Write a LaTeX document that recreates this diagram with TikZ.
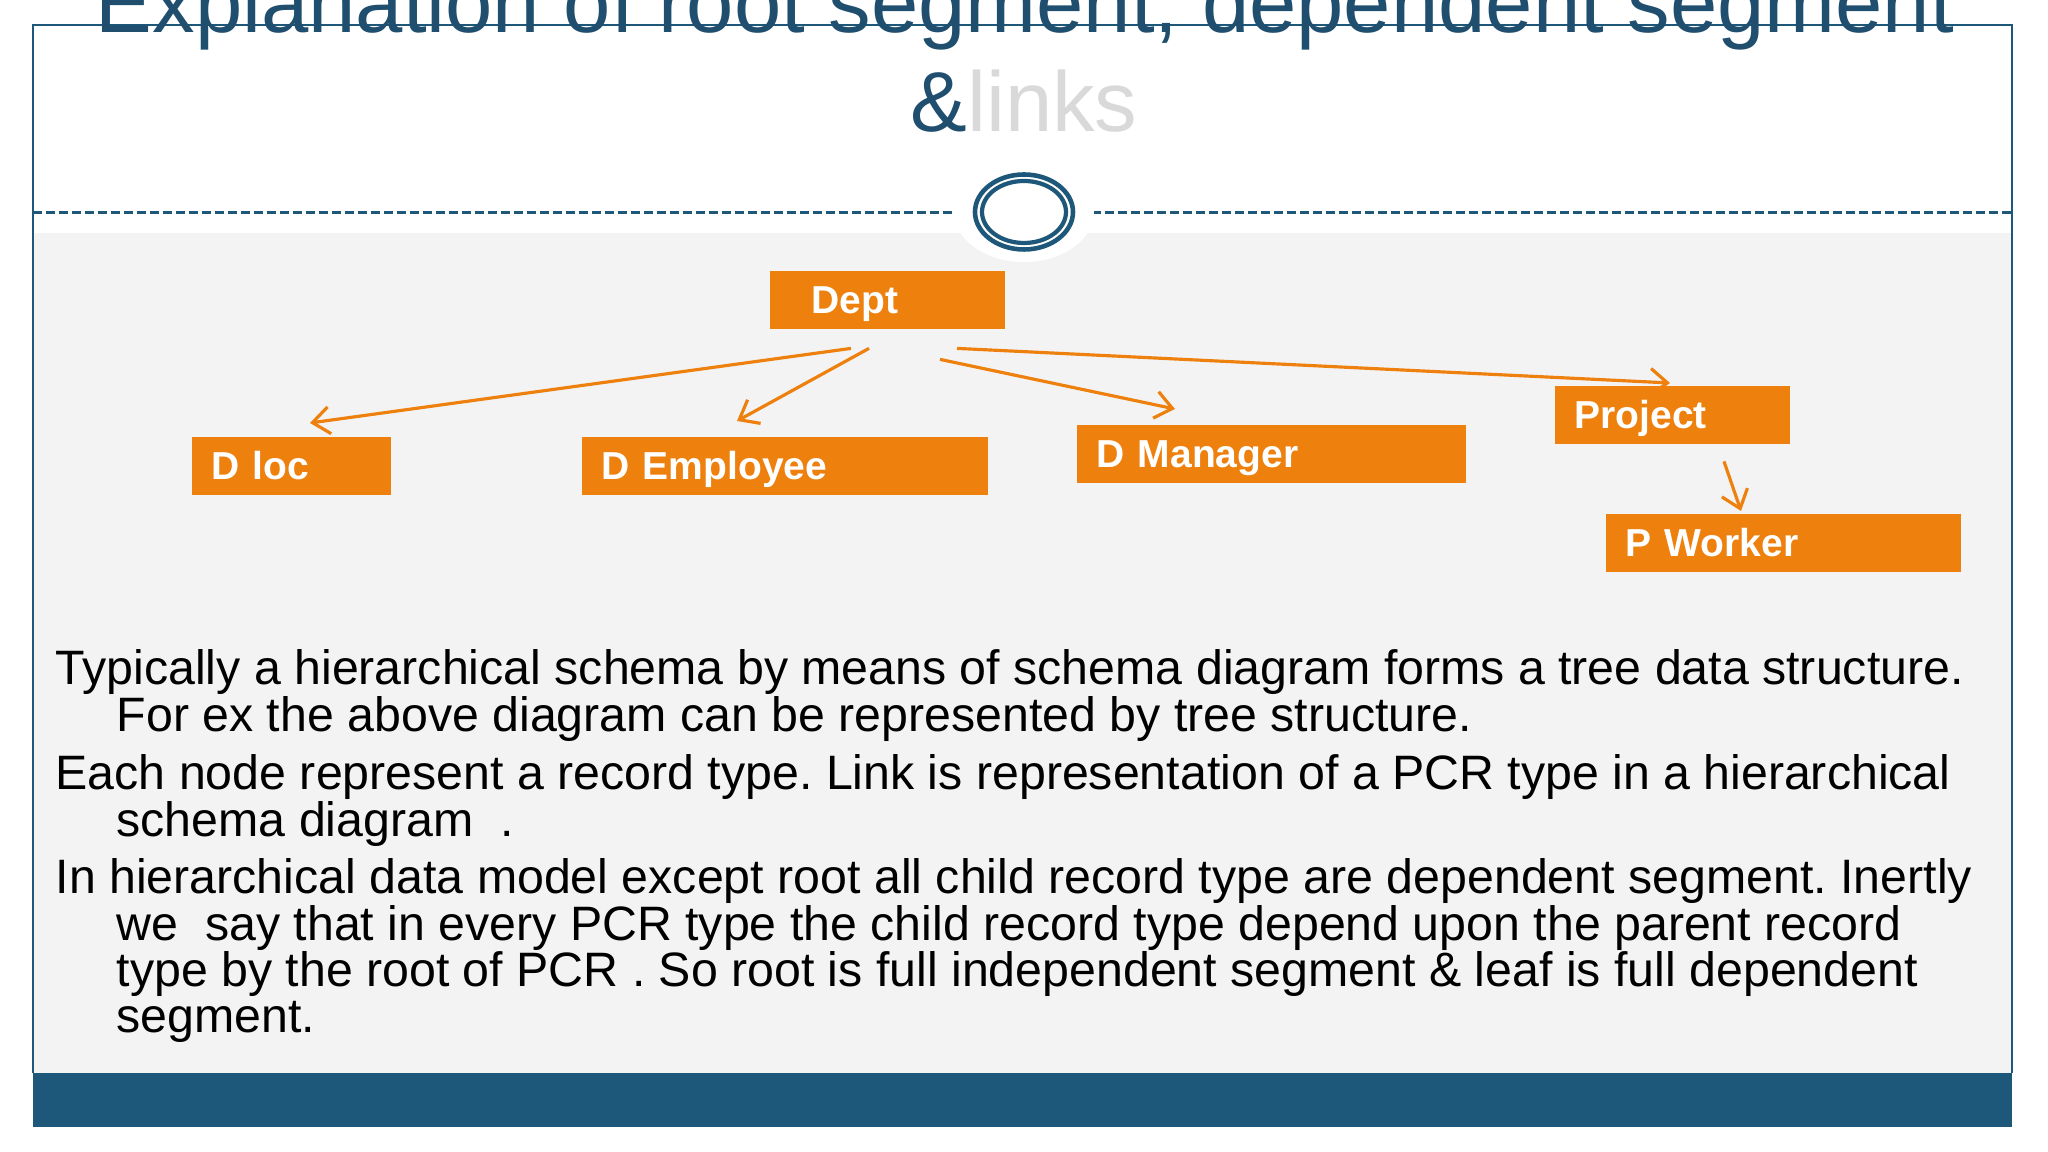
\documentclass[tikz,border=0pt]{standalone}
\usepackage{fontspec}
\setmainfont{Liberation Sans}
\setsansfont{Liberation Sans}
\usepackage{tikz}
\usetikzlibrary{arrows.meta}
\frenchspacing

\definecolor{segorange}{RGB}{238,128,14}
\definecolor{slideblue}{RGB}{29,87,121}
\definecolor{titleblue}{RGB}{31,78,110}
\definecolor{paper}{RGB}{243,243,243}

\begin{document}
\begin{tikzpicture}[
    seg/.style={fill=segorange, text=white, anchor=north west, align=left,
                font=\sffamily\bfseries\fontsize{11.1}{13}\selectfont,
                minimum height=5.8mm, inner xsep=2mm, inner ysep=0pt,
                text height=2.8mm, text depth=0pt, text width=#1},
    link/.style={draw=segorange, line width=0.9pt,
                 -{Straight Barb[length=1.7mm,width=2.7mm]}},
    para/.style={anchor=north west, align=left, inner sep=0pt,
                 font=\fontsize{13.74}{13.2}\selectfont}]
            \useasboundingbox (0,0) rectangle (20.48,11.52);

            %%% SLIDE (frame, title, divider) %%%
            \fill[paper] (0.33,0.79) rectangle (20.12,9.19);
            \fill[slideblue] (0.33,0.25) rectangle (20.12,0.79);
            \draw[slideblue, line width=0.8pt] (0.33,0.79) -- (0.33,11.27) -- (20.12,11.27) -- (20.12,0.79);

            \node[titleblue, anchor=base, font=\fontsize{24.2}{29}\selectfont] (title) at (10.25,11.19)
                {Explanation of root segment, dependent segment};
            \node[anchor=base, font=\fontsize{24.2}{29}\selectfont] (subtitle) at (10.24,10.20)
                {\textcolor{titleblue}{\&}\textcolor{gray!30}{links}};

            % divider with the double ring
            \draw[slideblue, line width=0.85pt, dash pattern=on 0.9mm off 0.4mm] (0.33,9.39) -- (9.53,9.39);
            \draw[slideblue, line width=0.85pt, dash pattern=on 0.9mm off 0.4mm] (10.92,9.39) -- (20.12,9.39);
            \fill[white] (10.24,9.40) ellipse [x radius=0.70, y radius=0.50];
            \draw[slideblue, line width=1.3pt] (10.24,9.40) ellipse [x radius=0.49, y radius=0.375];
            \draw[slideblue, line width=1.2pt] (10.24,9.40) ellipse [x radius=0.42, y radius=0.31];

            %%% NODES (segments) %%%
            % root
            \node[seg=1.51cm, inner xsep=4.2mm] (dept) at (7.69,8.82) {Dept};

            % dependent segments
            \node[seg=1.59cm] (dloc)  at (1.91,7.16)  {D loc};
            \node[seg=3.66cm] (demp)  at (5.81,7.16)  {D Employee};
            \node[seg=3.49cm] (dman)  at (10.76,7.28) {D Manager};
            \node[seg=1.95cm] (proj)  at (15.54,7.67) {Project};
            \node[seg=3.15cm] (pwork) at (16.05,6.39) {P Worker};

            %%% LINKS %%%
            \path
            ([shift={(0.82,-0.19)}]dept.south west) edge[link] ([shift={(1.19,0.13)}]dloc.north west)
            ([shift={(1.00,-0.19)}]dept.south west) edge[link] ([shift={(1.56,0.15)}]demp.north west)
            ([shift={(1.71,-0.30)}]dept.south west) edge[link] ([shift={(0.99,0.15)}]dman.north west)
            ([shift={(1.88,-0.19)}]dept.south west) edge[link] ([shift={(1.16,0.02)}]proj.north west)
            ([shift={(1.70,-0.17)}]proj.south west) edge[link] ([shift={(1.36,0.02)}]pwork.north west);

            %%% TEXT %%%
            \node[para] (typically) at (0.55,5.03)
                {Typically a hierarchical schema by means of schema diagram forms a tree data structure.\\
                 \hspace*{6.1mm}For ex the above diagram can be represented by tree structure.};
            \node[para] (eachnode) at (0.55,3.98)
                {Each node represent a record type. Link is representation of a PCR type in a hierarchical\\
                 \hspace*{6.1mm}schema diagram~~.};
            \node[para] (inhier) at (0.55,2.94)
                {In hierarchical data model except root all child record type are dependent segment. Inertly\\
                 \hspace*{6.1mm}we~~say that in every PCR type the child record type depend upon the parent record\\
                 \hspace*{6.1mm}type by the root of PCR . So root is full independent segment \& leaf is full dependent\\
                 \hspace*{6.1mm}segment.};
\end{tikzpicture}
\end{document}
